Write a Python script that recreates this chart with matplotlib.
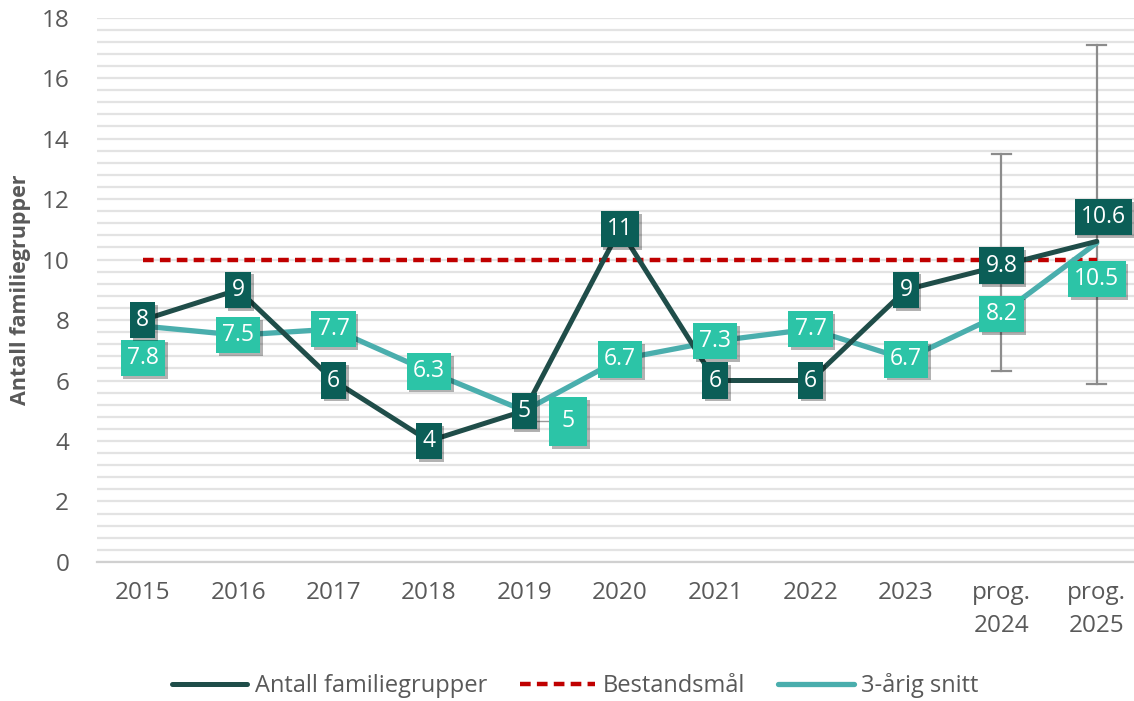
import numpy as np
import matplotlib
matplotlib.use("Agg")
import matplotlib.pyplot as plt
import matplotlib.patheffects as pe
from matplotlib.ticker import MultipleLocator

plt.rcParams['font.family'] = ['Open Sans', 'DejaVu Sans']

years = ["2015", "2016", "2017", "2018", "2019", "2020", "2021", "2022", "2023",
         "prog.\n2024", "prog.\n2025"]
antall = [8, 9, 6, 4, 5, 11, 6, 6, 9, 9.8, 10.6]
antall_lbl = ["8", "9", "6", "4", "5", "11", "6", "6", "9", "9.8", "10.6"]
snitt = [7.8, 7.5, 7.7, 6.3, 5, 6.7, 7.3, 7.7, 6.7, 8.2, 10.55]
snitt_lbl = ["7.8", "7.5", "7.7", "6.3", "5", "6.7", "7.3", "7.7", "6.7", "8.2", "10.5"]
maal = [10] * 11
err_lo = [None] * 9 + [6.3, 5.9]
err_hi = [None] * 9 + [13.5, 17.1]

DARK = "#1f4d49"
DARKBOX = "#0b5e57"
TEAL = "#4aaead"
TEALBOX = "#2cc4a7"
RED = "#c00000"
GREY = "#595959"

fig = plt.figure(figsize=(11.34, 7.01), dpi=100)
ax = fig.add_axes([0.0855, 0.1983, 0.9145, 0.7767])
x = np.arange(len(years))

ax.set_ylim(0, 18)
ax.set_xlim(-0.48, 10.39)
ax.yaxis.set_major_locator(MultipleLocator(2))
ax.yaxis.set_minor_locator(MultipleLocator(0.4))
ax.grid(axis='y', which='both', color='#e3e3e3', lw=1.6, zorder=0)
for s in ['top', 'right', 'left']:
    ax.spines[s].set_visible(False)
ax.spines['bottom'].set_color('#d0d0d0')
ax.spines['bottom'].set_linewidth(1.6)
ax.tick_params(axis='both', which='both', length=0, labelsize=17.5, colors=GREY)
ax.tick_params(axis='y', pad=20)
ax.tick_params(axis='x', pad=14)
ax.set_xticks(x)
ax.set_xticklabels(years, linespacing=1.45)
ax.set_ylabel("Antall familiegrupper", fontsize=15.5, fontweight='bold', color=GREY)
ax.yaxis.set_label_coords(-0.064, 0.5)

# error bars on forecasts
for i in range(len(years)):
    if err_lo[i] is None:
        continue
    ax.plot([x[i], x[i]], [err_lo[i], err_hi[i]], color='#8c8c8c', lw=1.6, zorder=2)
    ax.plot([x[i] - 0.1, x[i] + 0.1], [err_hi[i]] * 2, color='#8c8c8c', lw=1.6, zorder=2)
    ax.plot([x[i] - 0.1, x[i] + 0.1], [err_lo[i]] * 2, color='#8c8c8c', lw=1.6, zorder=2)

ax.plot(x, maal, color=RED, lw=3.2, dashes=(2.4, 1.4), zorder=3, label="Bestandsmål")
ax.plot(x, snitt, color=TEAL, lw=3.8, zorder=4, label="3-årig snitt", solid_capstyle='round')
ax.plot(x, antall, color=DARK, lw=3.6, zorder=5, label="Antall familiegrupper", solid_capstyle='round')

shadow = [pe.withSimplePatchShadow(offset=(2, -2), shadow_rgbFace='#000000', alpha=0.3)]


def box(xp, yp, s, fc, z, pad=0.27):
    t = ax.text(xp, yp, s, ha='center', va='center', fontsize=16.5, color='white', zorder=z,
                bbox=dict(boxstyle='square,pad=%s' % pad, fc=fc, ec='none'))
    t.get_bbox_patch().set_path_effects(shadow)
    return t


snitt_pos = {0: (0, -1.05), 10: (0, -1.2)}
for i in range(len(years)):
    if i == 4:
        continue
    dx, dy = snitt_pos.get(i, (0, 0))
    box(x[i] + dx, snitt[i] + dy, snitt_lbl[i], TEALBOX, 6)

# teal label for 2019 is pulled out to the right with a leader line
ax.plot([x[4] + 0.1, x[4] + 0.35], [4.65, 4.65], color='#999999', lw=1, zorder=5)
box(x[4] + 0.46, 4.65, snitt_lbl[4], TEALBOX, 6, pad=0.55)

antall_pos = {10: (0.07, 0.8)}
for i in range(len(years)):
    dx, dy = antall_pos.get(i, (0, 0))
    box(x[i] + dx, antall[i] + dy, antall_lbl[i], DARKBOX, 7)

handles, labels = ax.get_legend_handles_labels()
order = [2, 0, 1]
fig.legend([handles[k] for k in order], [labels[k] for k in order], loc='center',
           bbox_to_anchor=(0.507, 0.022), ncol=3, frameon=False, fontsize=17,
           handlelength=3.2, columnspacing=1.4, handletextpad=0.3, labelcolor=GREY)

fig.savefig("out.png", dpi=100)
